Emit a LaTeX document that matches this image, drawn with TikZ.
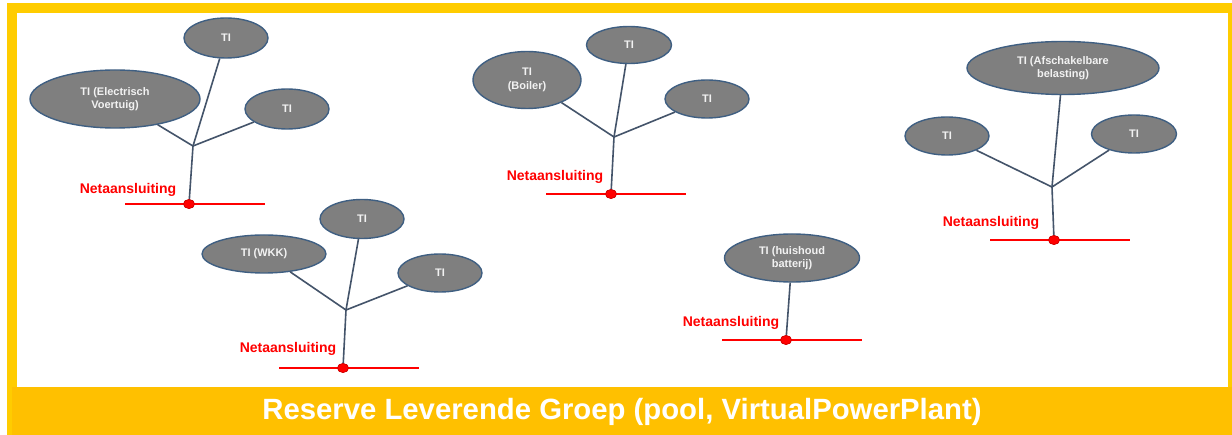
\documentclass[tikz,border=0pt]{standalone}
\usepackage{fontspec}
\setmainfont{Liberation Sans}
\usetikzlibrary{shapes.geometric}
\definecolor{frameY}{HTML}{FFCC00}
\definecolor{bannerY}{HTML}{FFC000}
\definecolor{tifill}{HTML}{7F7F7F}
\definecolor{tiedge}{HTML}{3F5F82}
\definecolor{conncol}{HTML}{44546A}
\definecolor{titext}{HTML}{F2F2F2}
\tikzset{
  ti/.style={ellipse, draw=tiedge, line width=1.4pt, fill=tifill, inner sep=0pt,
    text=titext, align=center, font=\bfseries\fontsize{11}{13.5}\selectfont},
  conn/.style={draw=conncol, line width=1.6pt},
  gridline/.style={draw=red, line width=1.4pt},
  gdot/.style={ellipse, fill=red, draw=red!80!black, line width=0.6pt, minimum width=11pt, minimum height=9pt, inner sep=0pt},
  netlabel/.style={text=red, font=\bfseries\fontsize{14}{16}\selectfont, inner sep=0pt}
}
\begin{document}
\begin{tikzpicture}[x=1pt,y=-1pt]
\useasboundingbox (0,0) rectangle (1232,435);
% frame
\fill[frameY] (7,3) rectangle (1232,435);
\fill[white] (17,13) rectangle (1228,387);
\fill[bannerY] (12,387) rectangle (1232,435);
\node[text=white, font=\bfseries\fontsize{29.3}{32}\selectfont, inner sep=0pt] (title) at (622,412) {Reserve Leverende Groep (pool, VirtualPowerPlant)};

% group 1
\node[ti, minimum width=84pt, minimum height=40pt] (a1) at (226,38) {TI};
\node[ti, minimum width=170pt, minimum height=58pt] (a2) at (115,99) {TI (Electrisch\\Voertuig)};
\node[ti, minimum width=84pt, minimum height=40pt] (a3) at (287,109) {TI};
\coordinate (aj) at (193,146);
\node[gdot] (ad) at (189,204) {};
\coordinate (al) at (125,204);
\coordinate (ar) at (265,204);
\draw[gridline] (al) -- (ar);
\draw[conn] (a1) -- (aj);
\draw[conn] (a2) -- (aj);
\draw[conn] (a3) -- (aj);
\draw[conn] (aj) -- (ad.center);
\node[gdot] at (ad) {};
\node[netlabel] (an) at (128,190) {Netaansluiting};

% group 2
\node[ti, minimum width=84pt, minimum height=39pt] (b1) at (362,219) {TI};
\node[ti, minimum width=124pt, minimum height=38pt] (b2) at (264,254) {TI (WKK)};
\node[ti, minimum width=84pt, minimum height=38pt] (b3) at (440,273) {TI};
\coordinate (bj) at (346,310);
\node[gdot] (bd) at (343,368) {};
\coordinate (bl) at (279,368);
\coordinate (br) at (419,368);
\draw[gridline] (bl) -- (br);
\draw[conn] (b1) -- (bj);
\draw[conn] (b2) -- (bj);
\draw[conn] (b3) -- (bj);
\draw[conn] (bj) -- (bd.center);
\node[gdot] at (bd) {};
\node[netlabel] (bn) at (288,349) {Netaansluiting};

% group 3
\node[ti, minimum width=85pt, minimum height=37pt] (c1) at (629,45) {TI};
\node[ti, minimum width=108pt, minimum height=57pt] (c2) at (527,80) {TI\\(Boiler)};
\node[ti, minimum width=84pt, minimum height=38pt] (c3) at (707,99) {TI};
\coordinate (cj) at (614,137);
\node[gdot] (cd) at (611,194) {};
\coordinate (cl) at (546,194);
\coordinate (cr) at (686,194);
\draw[gridline] (cl) -- (cr);
\draw[conn] (c1) -- (cj);
\draw[conn] (c2) -- (cj);
\draw[conn] (c3) -- (cj);
\draw[conn] (cj) -- (cd.center);
\node[gdot] at (cd) {};
\node[netlabel] (cn) at (555,177) {Netaansluiting};

% group 4
\node[ti, minimum width=135pt, minimum height=48pt] (d1) at (792,258) {TI (huishoud\\batterij)};
\node[gdot] (dd) at (786,340) {};
\coordinate (dl) at (722,340);
\coordinate (dr) at (862,340);
\draw[gridline] (dl) -- (dr);
\draw[conn] (d1) -- (dd.center);
\node[gdot] at (dd) {};
\node[netlabel] (dn) at (731,323) {Netaansluiting};

% group 5
\node[ti, minimum width=192pt, minimum height=53pt] (e1) at (1063,68) {TI (Afschakelbare\\belasting)};
\node[ti, minimum width=84pt, minimum height=38pt] (e2) at (947,136) {TI};
\node[ti, minimum width=85pt, minimum height=38pt] (e3) at (1134,134) {TI};
\coordinate (ej) at (1052,187);
\node[gdot] (ed) at (1054,240) {};
\coordinate (el) at (990,240);
\coordinate (er) at (1130,240);
\draw[gridline] (el) -- (er);
\draw[conn] (e1) -- (ej);
\draw[conn] (e2) -- (ej);
\draw[conn] (e3) -- (ej);
\draw[conn] (ej) -- (ed.center);
\node[gdot] at (ed) {};
\node[netlabel] (en) at (991,223) {Netaansluiting};
\end{tikzpicture}
\end{document}
